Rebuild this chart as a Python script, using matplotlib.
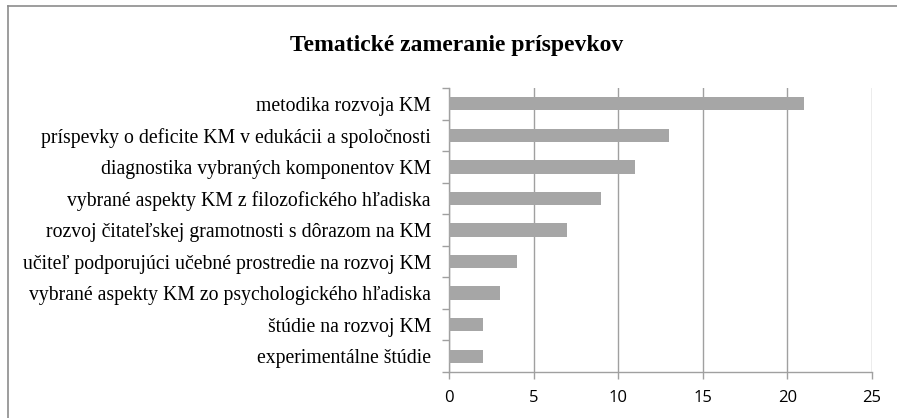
import numpy as np
import matplotlib.pyplot as plt
from matplotlib.lines import Line2D

categories = [
    'metodika rozvoja KM',
    'príspevky o deficite KM v edukácii a spoločnosti',
    'diagnostika vybraných komponentov KM',
    'vybrané aspekty KM z filozofického hľadiska',
    'rozvoj čitateľskej gramotnosti s dôrazom na KM',
    'učiteľ podporujúci učebné prostredie na rozvoj KM',
    'vybrané aspekty KM zo psychologického hľadiska',
    'štúdie na rozvoj KM',
    'experimentálne štúdie',
]
values = [21, 13, 11, 9, 7, 4, 3, 2, 2]
xticks = [0, 5, 10, 15, 20, 25]
title = 'Tematické zameranie príspevkov'

grid_col = '#a0a0a0'
bar_col = '#a6a6a6'

fig = plt.figure(figsize=(8.97, 4.18), dpi=100)
ax = fig.add_axes([449 / 897, 1 - 372 / 418, (872 - 449) / 897, (372 - 88) / 418])

y = np.arange(len(categories))
ax.barh(y, values, height=0.42, color=bar_col, zorder=3)
ax.set_ylim(len(categories) - 0.5, -0.5)
ax.set_xlim(0, 25)

ax.set_xticks(xticks)
ax.set_xticklabels([str(t) for t in xticks], fontfamily='Open Sans', fontsize=12)
ax.set_yticks(y)
ax.set_yticklabels(categories, fontfamily='Liberation Serif', fontsize=14.2)
ax.set_yticks(np.arange(-0.5, len(categories), 1), minor=True)
ax.tick_params(axis='y', which='major', length=0, pad=13)
ax.tick_params(axis='y', which='minor', length=5, color=grid_col, width=1)
ax.tick_params(axis='x', length=5, color=grid_col, width=1, pad=8)

ax.grid(axis='x', color=grid_col, linewidth=1, zorder=0)
for s in ['top', 'right']:
    ax.spines[s].set_visible(False)
for s in ['left', 'bottom']:
    ax.spines[s].set_color(grid_col)
    ax.spines[s].set_linewidth(1)

fig.text(457 / 897, 1 - 45 / 418, title, ha='center', va='center',
         fontfamily='Liberation Serif', fontweight='bold', fontsize=17)

# chart frame (left and top edges only are in view)
fig.add_artist(Line2D([7.5 / 897, 7.5 / 897], [-0.1, 1 - 6 / 418],
                      transform=fig.transFigure, color='#8c8c8c', linewidth=1.2))
fig.add_artist(Line2D([7.5 / 897, 1.1], [1 - 6 / 418, 1 - 6 / 418],
                      transform=fig.transFigure, color='#8c8c8c', linewidth=1.2))

fig.savefig('out.png', dpi=100)
